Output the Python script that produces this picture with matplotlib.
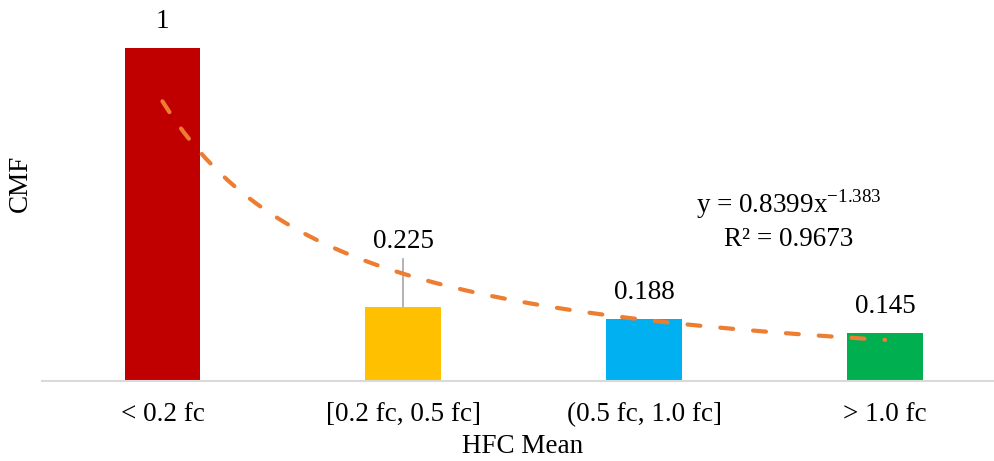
"""CMF by HFC mean bin, with the power-law trendline shown on the chart."""

import matplotlib

matplotlib.use("Agg")
import matplotlib.pyplot as plt  # noqa: E402
import numpy as np  # noqa: E402

# ------------------------------------------------------------------
# Data
# ------------------------------------------------------------------
categories = ["< 0.2 fc", "[0.2 fc, 0.5 fc]", "(0.5 fc, 1.0 fc]", "> 1.0 fc"]
cmf = [1.0, 0.222, 0.186, 0.144]
labels = ["1", "0.225", "0.188", "0.145"]
label_y = [1.08, 0.42, 0.265, 0.225]   # where the data labels sit
colors = ["#C00000", "#FFC000", "#00B0F0", "#00B050"]

# power trendline as printed on the chart: y = a * x^b
fit_a = 0.8399
fit_b = -1.383
fit_r2 = 0.9673

FS = 19.5

plt.rcParams["font.family"] = ["Liberation Serif", "DejaVu Serif"]
plt.rcParams["mathtext.fontset"] = "custom"
plt.rcParams["mathtext.rm"] = "Liberation Serif"

fig = plt.figure(figsize=(9.94, 4.61), dpi=100)
ax = fig.add_axes([42 / 994, 80 / 461, 952 / 994, 371 / 461])

pos = np.arange(len(categories))
ax.bar(pos, cmf, width=0.315, color=colors, zorder=2)

# trendline over the category index 1..4
xs = np.linspace(1, len(categories), 200)
ax.plot(xs - 1, fit_a * xs ** fit_b, color="#ED7D31", lw=3.0,
        dashes=(3.1, 4.8), dash_capstyle="round", zorder=3)

# data labels (the 0.225 one was pulled up, with a leader line)
for i, (txt, y) in enumerate(zip(labels, label_y)):
    ax.text(pos[i], y, txt, ha="center", va="center", fontsize=FS)
ax.plot([pos[1], pos[1]], [cmf[1], 0.365], color="#A6A6A6", lw=1.2, zorder=1)

ax.text(2.6, 0.485, "y = 0.8399x$^{\\mathregular{-1.383}}$\nR² = %.4f" % fit_r2,
        ha="center", va="center", fontsize=FS, linespacing=1.3)

ax.set_xlim(-0.5, 3.452)
ax.set_ylim(0, 1.114)
ax.set_xticks(pos)
ax.set_xticklabels(categories, fontsize=FS)
ax.tick_params(axis="x", length=0, pad=15)
ax.set_yticks([])
for side in ("top", "right", "left"):
    ax.spines[side].set_visible(False)
ax.spines["bottom"].set_color("#D9D9D9")
ax.spines["bottom"].set_linewidth(1.5)

xl = ax.set_xlabel("HFC Mean", fontsize=FS)
xl.set_va("baseline")
ax.xaxis.set_label_coords(0.505, -0.194)
ax.set_ylabel("CMF", fontsize=FS)
ax.yaxis.set_label_coords(-0.0095, 0.534)

fig.savefig("out.png", dpi=100)
